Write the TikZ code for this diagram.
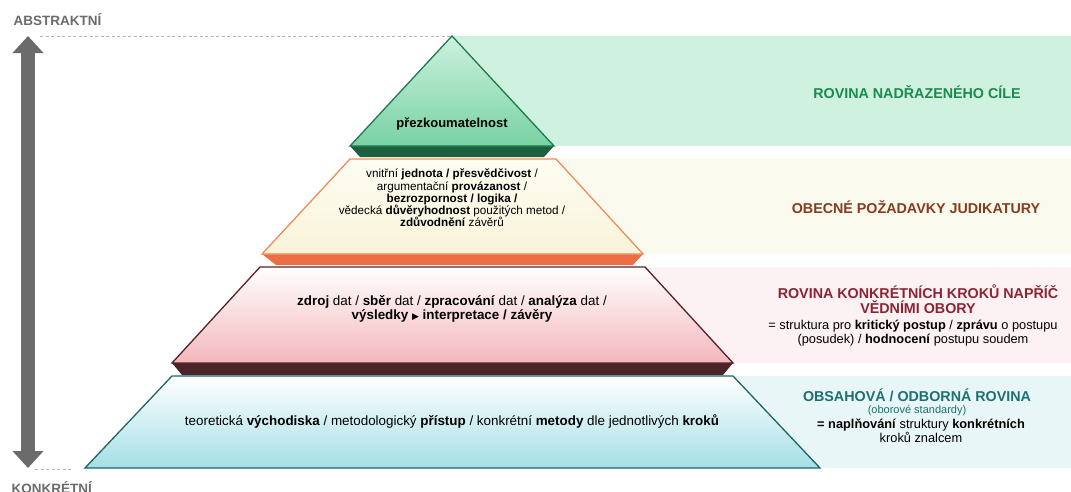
\documentclass[tikz,border=0pt]{standalone}
\usepackage{fontspec}
\setmainfont{Liberation Sans}
\newfontfamily\symfont{DejaVu Sans}
\usetikzlibrary{arrows.meta,calc}

\definecolor{axisgray}{HTML}{6B6B6B}
\definecolor{guidegray}{HTML}{B5B5B5}
\definecolor{goalline}{HTML}{1F7A4D}
\definecolor{goaltop}{HTML}{CCF1DE}
\definecolor{goalbottom}{HTML}{78D2A3}
\definecolor{goalshadow}{HTML}{1E5F3F}
\definecolor{goalback}{HTML}{CFF1DF}
\definecolor{goaltext}{HTML}{1B8A4E}
\definecolor{judline}{HTML}{F28C58}
\definecolor{judtop}{HTML}{FEFDF2}
\definecolor{judbottom}{HTML}{F8F3D9}
\definecolor{judshadow}{HTML}{EB6E45}
\definecolor{judback}{HTML}{FBFAEE}
\definecolor{judtext}{HTML}{863B1E}
\definecolor{stepline}{HTML}{5B2025}
\definecolor{stepbottom}{HTML}{F3B7BD}
\definecolor{stepshadow}{HTML}{4A2427}
\definecolor{stepback}{HTML}{FCF1F3}
\definecolor{steptext}{HTML}{8E2433}
\definecolor{fieldline}{HTML}{1E6464}
\definecolor{fieldbottom}{HTML}{A4DFE6}
\definecolor{fieldback}{HTML}{E8F6F8}
\definecolor{fieldtext}{HTML}{1E7070}

\tikzset{
  layer/.style={line width=1.3pt, line join=miter},
  pyrtext/.style={align=center, font=\fontsize{13.4}{14.5}\selectfont},
  leveltitle/.style={align=center, font=\fontsize{14.3}{15}\selectfont\bfseries},
  levelnote/.style={align=center, font=\fontsize{12.8}{14}\selectfont},
  axislabel/.style={anchor=west, text=axisgray, font=\fontsize{13.5}{14}\selectfont\bfseries},
  guide/.style={draw=guidegray, line width=0.8pt, dash pattern=on 3pt off 2.5pt},
  axisarrow/.style={draw=axisgray, line width=14pt,
    {Triangle[width=30pt,length=17pt]}-{Triangle[width=30pt,length=17pt]}}
}

\begin{document}
\begin{tikzpicture}[x=1pt,y=-1pt] % pixel grid, y runs down
\useasboundingbox (0,0) rectangle (1071,491);

% corners of the four layers
\coordinate (goalApex) at (452,36);
\coordinate (goalL) at (350,146);  \coordinate (goalR) at (554,146);
\coordinate (judTL) at (350,159);  \coordinate (judTR) at (556,159);
\coordinate (judBL) at (262,254);  \coordinate (judBR) at (643,254);
\coordinate (stepTL) at (260,267); \coordinate (stepTR) at (645,267);
\coordinate (stepBL) at (172,363); \coordinate (stepBR) at (733,363);
\coordinate (fieldTL) at (172,376); \coordinate (fieldTR) at (733,376);
\coordinate (fieldBL) at (85,468);  \coordinate (fieldBR) at (820,468);

% pale bands behind the right labels
\fill[goalback] (goalApex) rectangle (1071,146);
\fill[judback] (452,158) rectangle (1071,254);
\fill[stepback] (452,267) rectangle (1071,363);
\fill[fieldback] (452,376) rectangle (1071,468);

% axis abstract / concrete
\coordinate (abstTip) at (28,36);
\coordinate (konkTip) at (28,468);
\coordinate (abstGuide) at (40,36);
\coordinate (konkGuideA) at (35,469);
\coordinate (konkGuideB) at (72,469);
\draw[guide] (abstGuide) -- (goalApex);
\draw[guide] (konkGuideA) -- (konkGuideB);
\draw[axisarrow] (konkTip) -- (abstTip);
\node[axislabel] (abstLabel) at (10,20) {ABSTRAKTNÍ};
\node[axislabel] (konkLabel) at (8,488) {KONKRÉTNÍ};

% shadow bands under the layers
\fill[goalshadow] (goalL) -- (goalR) -- ++(-10,11) -- ($(goalL)+(10,11)$) -- cycle;
\fill[judshadow] (judBL) -- (judBR) -- ++(-10,11) -- ($(judBL)+(14,11)$) -- cycle;
\fill[stepshadow] (stepBL) -- (stepBR) -- ++(-10,12) -- ($(stepBL)+(10,12)$) -- cycle;

% the layers
\path[layer, draw=goalline, top color=goaltop, bottom color=goalbottom]
  (goalApex) -- (goalR) -- (goalL) -- cycle;
\path[layer, draw=judline, top color=judtop, bottom color=judbottom]
  (judTL) -- (judTR) -- (judBR) -- (judBL) -- cycle;
\path[layer, draw=stepline, top color=white, bottom color=stepbottom]
  (stepTL) -- (stepTR) -- (stepBR) -- (stepBL) -- cycle;
\path[layer, draw=fieldline, top color=white, bottom color=fieldbottom]
  (fieldTL) -- (fieldTR) -- (fieldBR) -- (fieldBL) -- cycle;

% texts in the pyramid
\node[pyrtext, font=\fontsize{13}{14}\selectfont\bfseries] (goalText) at (452,124) {přezkoumatelnost};
\node[pyrtext, font=\fontsize{11.7}{12.2}\selectfont] (judText) at (452,198)
  {vnitřní \textbf{jednota / přesvědčivost} /\\
   argumentační \textbf{provázanost} /\\
   \textbf{bezrozpornost / logika /}\\
   vědecká \textbf{důvěryhodnost} použitých metod /\\
   \textbf{zdůvodnění} závěrů};
\node[pyrtext] (stepText) at (452,309)
  {\textbf{zdroj} dat / \textbf{sběr} dat / \textbf{zpracování} dat / \textbf{analýza} dat /\\
   \textbf{výsledky {\symfont\fontsize{9}{10}\selectfont ▶} interpretace / závěry}};
\node[pyrtext] (fieldText) at (452,422)
  {teoretická \textbf{východiska} / metodologický \textbf{přístup} / konkrétní \textbf{metody} dle jednotlivých \textbf{kroků}};

% labels of the levels
\node[leveltitle, text=goaltext] (goalTitle) at (917,92) {ROVINA NADŘAZENÉHO CÍLE};
\node[leveltitle, text=judtext] (judTitle) at (916,207) {OBECNÉ POŽADAVKY JUDIKATURY};
\node[leveltitle, text=steptext] (stepTitle) at (918,299) {ROVINA KONKRÉTNÍCH KROKŮ NAPŘÍČ\\VĚDNÍMI OBORY};
\node[levelnote] (stepNote) at (913,333)
  {= struktura pro \textbf{kritický postup} / \textbf{zprávu} o postupu\\
   (posudek) / \textbf{hodnocení} postupu soudem};
\node[leveltitle, text=fieldtext] (fieldTitle) at (917,395) {OBSAHOVÁ / ODBORNÁ ROVINA};
\node[levelnote, text=fieldtext, font=\fontsize{11}{12}\selectfont] (fieldSub) at (917,411) {(oborové standardy)};
\node[levelnote] (fieldNote) at (921,431)
  {\textbf{= naplňování} struktury \textbf{konkrétních}\\
   kroků znalcem};
\end{tikzpicture}
\end{document}
